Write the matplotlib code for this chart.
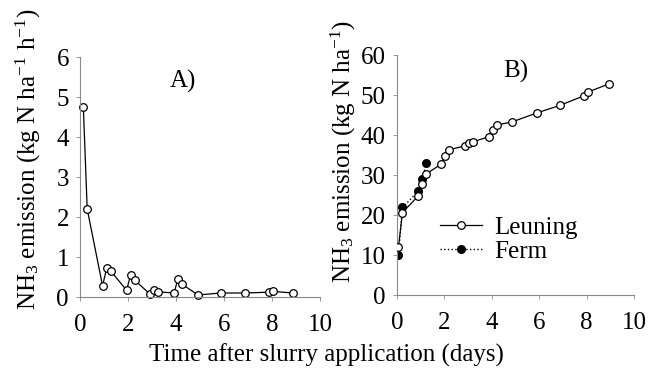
import matplotlib.pyplot as plt

plt.rcParams['font.family'] = ['Liberation Serif', 'DejaVu Serif']
plt.rcParams['mathtext.fontset'] = 'custom'
plt.rcParams['mathtext.rm'] = 'Liberation Serif'
plt.rcParams['mathtext.it'] = 'Liberation Serif:italic'

# Panel A: hourly emission flux (Leuning)
days_a = [0.14, 0.30, 0.94, 1.11, 1.28, 1.94, 2.11, 2.28, 2.92, 3.08, 3.25,
          3.92, 4.08, 4.25, 4.92, 5.86, 6.86, 7.86, 8.06, 8.86]
flux_a = [4.74, 2.2, 0.28, 0.72, 0.65, 0.17, 0.55, 0.42, 0.07, 0.17, 0.13,
          0.10, 0.45, 0.32, 0.05, 0.10, 0.10, 0.12, 0.14, 0.10]

# Panel B: cumulative emission
days_leuning = [0.06, 0.23, 0.90, 1.07, 1.24, 1.86, 2.03, 2.20, 2.87, 3.04,
                3.21, 3.89, 4.06, 4.23, 4.87, 5.89, 6.87, 7.89, 8.08, 8.96]
cum_leuning = [11.9, 20.6, 24.8, 27.8, 30.3, 32.7, 34.8, 36.3, 37.3, 37.9,
               38.3, 39.6, 41.3, 42.5, 43.3, 45.5, 47.4, 49.8, 50.8, 52.8]
days_ferm = [0.06, 0.23, 0.90, 1.07, 1.24]
cum_ferm = [9.9, 21.9, 25.9, 28.9, 32.9]

fs = 18
ylab = r'NH$_3$ emission (kg N ha$^{-1}$ h$^{-1}$)'
ylab_b = r'NH$_3$ emission (kg N ha$^{-1}$)'

fig = plt.figure(figsize=(6.52, 3.75), dpi=100)
ax1 = fig.add_axes([80/652, 1 - 297/375, 240/652, 240/375])
ax2 = fig.add_axes([397/652, 1 - 295/375, 237/652, 240/375])


def style(ax):
    for s in ['top', 'right']:
        ax.spines[s].set_visible(False)
    for s in ['left', 'bottom']:
        ax.spines[s].set_color('#888888')
        ax.spines[s].set_linewidth(0.8)
    ax.tick_params(labelsize=fs, length=3, width=0.6, color='#888888')
    ax.tick_params(axis='x', pad=9)
    ax.tick_params(axis='y', pad=5)
    ax.set_xlim(0, 10)
    ax.set_xticks([0, 2, 4, 6, 8, 10])


style(ax1)
ax1.plot(days_a, flux_a, '-', color='black', lw=0.9, marker='o', ms=5.5,
         mfc='white', mec='black', mew=0.9, clip_on=False)
ax1.set_ylim(0, 6)
ax1.set_yticks(range(0, 7))
ax1.text(4.3, 5.4, 'A)', fontsize=fs, ha='center', va='center')
ax1.set_ylabel(ylab, fontsize=fs)
ax1.yaxis.set_label_coords(-0.155, 0.575)

style(ax2)
ax2.plot(days_ferm, cum_ferm, ':', color='black', lw=1.0, marker='o', ms=5.5,
         mfc='black', mec='black', label='Ferm', zorder=2)
ax2.plot(days_leuning, cum_leuning, '-', color='black', lw=0.9, marker='o',
         ms=5.5, mfc='white', mec='black', mew=0.9, label='Leuning', zorder=3)
ax2.set_ylim(0, 60)
ax2.set_yticks(range(0, 61, 10))
ax2.text(5.0, 56, 'B)', fontsize=fs, ha='center', va='center')
ax2.set_ylabel(ylab_b, fontsize=fs)
ax2.yaxis.set_label_coords(-0.165, 0.6)
h, l = ax2.get_legend_handles_labels()
ax2.legend(h[::-1], l[::-1], loc='center left', bbox_to_anchor=(0.18, 0.23),
           frameon=False, fontsize=fs, handlelength=1.7, handletextpad=0.5,
           labelspacing=0.05, borderaxespad=0, borderpad=0)

fig.text(0.5, 1 - 355/375, 'Time after slurry application (days)',
         fontsize=fs, ha='center', va='center')

fig.savefig('out.png', dpi=100)
